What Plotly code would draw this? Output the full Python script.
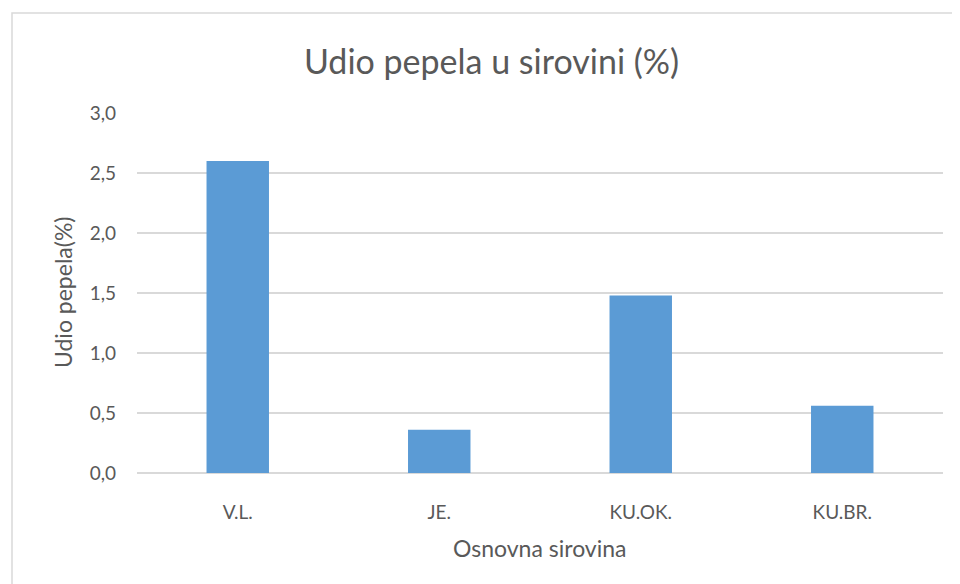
import plotly.graph_objects as go

categories = ["V.L.", "JE.", "KU.OK.", "KU.BR."]
values = [2.6, 0.36, 1.48, 0.56]
y_ticks = [0.0, 0.5, 1.0, 1.5, 2.0, 2.5, 3.0]

# page body has an 8px margin; target plot area in window pixels: x 137..943, y 113..473
OFF = 8
W, H = 960 - OFF, 584 - OFF
L = 137 - OFF
T = 113 - OFF
R = (W + OFF) - 943
B = (H + OFF) - 473
pw = W - L - R
ph = H - T - B

def px(x):
    return (x - 137) / pw

def py(y):
    return (473 - y) / ph

FONT = "Lato"
GREY = "#595959"

fig = go.Figure(go.Bar(x=categories, y=values, marker=dict(color="#5B9BD5", line=dict(width=0))))

fig.update_layout(
    width=W, height=H,
    margin=dict(l=L, r=R, t=T, b=B),
    paper_bgcolor="white", plot_bgcolor="white",
    separators=",.",
    bargap=0.69,
    showlegend=False,
    font=dict(family=FONT, color=GREY, size=19),
    xaxis=dict(showgrid=False, showline=False, zeroline=False, ticks="",
               ticklabelstandoff=26, tickfont=dict(size=19, color=GREY)),
    yaxis=dict(range=[0, 3.0], tickvals=y_ticks, tickformat=".1f",
               showgrid=True, gridcolor="#d9d9d9", gridwidth=1.5,
               zeroline=True, zerolinecolor="#d9d9d9", zerolinewidth=1.5,
               showline=False, ticks="", ticklabelstandoff=20,
               tickfont=dict(size=19, color=GREY)),
    shapes=[dict(type="rect", xref="paper", yref="paper",
                 x0=px(12), y0=py(620), x1=px(1000), y1=py(13),
                 line=dict(color="#d9d9d9", width=1.5), fillcolor="rgba(0,0,0,0)", layer="below")],
    annotations=[
        dict(text="Udio pepela u sirovini (%)", xref="paper", yref="paper",
             x=px(491), y=py(60), showarrow=False, xanchor="center", yanchor="middle",
             font=dict(size=34, color=GREY, family=FONT)),
        dict(text="Udio pepela(%)", xref="paper", yref="paper",
             x=px(63), y=py(293), showarrow=False, xanchor="center", yanchor="middle",
             textangle=-90, font=dict(size=23, color=GREY, family=FONT)),
        dict(text="Osnovna sirovina", xref="paper", yref="paper",
             x=px(540), y=py(548), showarrow=False, xanchor="center", yanchor="middle",
             font=dict(size=23, color=GREY, family=FONT)),
    ],
)

fig.write_html("out.html")
